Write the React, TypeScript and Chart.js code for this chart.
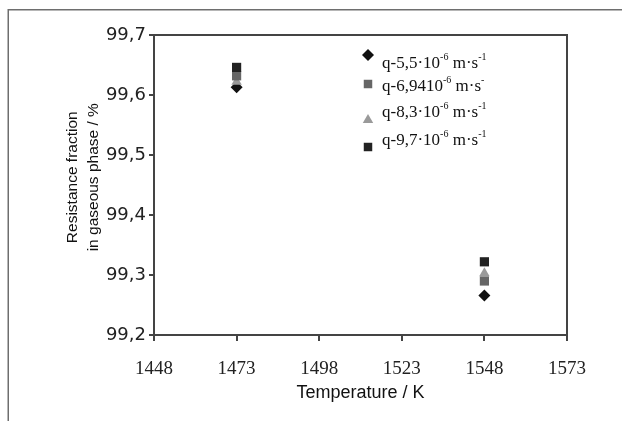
import React, { useEffect, useRef } from "react";
import { Chart, registerables } from "chart.js";

Chart.register(...registerables);

const temperatures = [1473, 1548];
const seriesQ97 = [99.646, 99.322];
const seriesQ694 = [99.632, 99.29];
const seriesQ83 = [99.622, 99.303];
const seriesQ55 = [99.613, 99.266];
const xTicks = [1448, 1473, 1498, 1523, 1548, 1573];
const yTicks = [99.2, 99.3, 99.4, 99.5, 99.6, 99.7];

type Part = { t: string; sup?: boolean };
const legendItems: { parts: Part[]; style: string; color: string; radius: number }[] = [
  { parts: [{ t: "q-5,5·10" }, { t: "-6", sup: true }, { t: " m·s" }, { t: "-1", sup: true }], style: "rectRot", color: "#111111", radius: 6 },
  { parts: [{ t: "q-6,9410" }, { t: "-6", sup: true }, { t: " m·s" }, { t: "-", sup: true }], style: "rect", color: "#666666", radius: 6 },
  { parts: [{ t: "q-8,3·10" }, { t: "-6", sup: true }, { t: " m·s" }, { t: "-1", sup: true }], style: "triangle", color: "#9a9a9a", radius: 6 },
  { parts: [{ t: "q-9,7·10" }, { t: "-6", sup: true }, { t: " m·s" }, { t: "-1", sup: true }], style: "rect", color: "#222222", radius: 6 },
];
const legendMarkerY = [55, 84, 120, 147];
const legendBaselineY = [68, 91, 117, 145];

function drawMarker(ctx: CanvasRenderingContext2D, style: string, r: number, x: number, y: number) {
  ctx.beginPath();
  if (style === "rect") {
    const s = r * Math.SQRT1_2;
    ctx.rect(x - s, y - s, 2 * s, 2 * s);
  } else if (style === "rectRot") {
    ctx.moveTo(x, y - r);
    ctx.lineTo(x + r, y);
    ctx.lineTo(x, y + r);
    ctx.lineTo(x - r, y);
    ctx.closePath();
  } else {
    ctx.moveTo(x, y - r);
    ctx.lineTo(x + r * 0.87, y + r * 0.5);
    ctx.lineTo(x - r * 0.87, y + r * 0.5);
    ctx.closePath();
  }
  ctx.fill();
}

const framePlugin = {
  id: "framePlugin",
  beforeDraw(chart: any) {
    const ctx = chart.ctx;
    ctx.save();
    ctx.fillStyle = "#ffffff";
    ctx.fillRect(0, 0, chart.width, chart.height);
    ctx.strokeStyle = "#6e6e6e";
    ctx.lineWidth = 1.5;
    ctx.beginPath();
    ctx.moveTo(8.25, chart.height);
    ctx.lineTo(8.25, 9.75);
    ctx.lineTo(chart.width, 9.75);
    ctx.stroke();
    ctx.restore();
  },
  afterDraw(chart: any) {
    const ctx = chart.ctx;
    const a = chart.chartArea;
    ctx.save();
    ctx.strokeStyle = "#444444";
    ctx.lineWidth = 2;
    ctx.beginPath();
    ctx.moveTo(a.left, a.top);
    ctx.lineTo(a.right, a.top);
    ctx.lineTo(a.right, a.bottom);
    ctx.stroke();

    const markerX = 368;
    const textX = 382;
    legendItems.forEach((it, i) => {
      ctx.fillStyle = it.color;
      drawMarker(ctx, it.style, it.radius, markerX, legendMarkerY[i]);
      let x = textX;
      const y = legendBaselineY[i];
      ctx.fillStyle = "#111111";
      ctx.textBaseline = "alphabetic";
      ctx.textAlign = "left";
      it.parts.forEach((p) => {
        if (p.sup) {
          ctx.font = "10px 'Liberation Serif', serif";
          ctx.fillText(p.t, x, y - 8);
        } else {
          ctx.font = "17px 'Liberation Serif', serif";
          ctx.fillText(p.t, x, y);
        }
        x += ctx.measureText(p.t).width;
      });
    });
    ctx.restore();
  },
};

export default function App() {
  const ref = useRef<HTMLCanvasElement | null>(null);
  useEffect(() => {
    if (!ref.current) return;
    const mk = (vals: number[]) => temperatures.map((t, i) => ({ x: t, y: vals[i] }));
    const chart = new Chart(ref.current, {
      type: "scatter",
      data: {
        datasets: [
          { label: "q-9,7", data: mk(seriesQ97), pointStyle: "rect", pointRadius: 6.5, backgroundColor: "#222222", borderColor: "#222222", borderWidth: 0 },
          { label: "q-6,94", data: mk(seriesQ694), pointStyle: "rect", pointRadius: 6.5, backgroundColor: "#666666", borderColor: "#666666", borderWidth: 0 },
          { label: "q-8,3", data: mk(seriesQ83), pointStyle: "triangle", pointRadius: 6, backgroundColor: "#9a9a9a", borderColor: "#9a9a9a", borderWidth: 0 },
          { label: "q-5,5", data: mk(seriesQ55), pointStyle: "rectRot", pointRadius: 6, backgroundColor: "#111111", borderColor: "#111111", borderWidth: 0 },
        ],
      },
      options: {
        animation: false,
        responsive: false,
        devicePixelRatio: 1,
        layout: { padding: { top: 35, right: 55, left: 0, bottom: 0 } },
        plugins: { legend: { display: false }, tooltip: { enabled: false } },
        scales: {
          x: {
            type: "linear",
            min: 1448,
            max: 1573,
            afterFit: (s: any) => { s.height = 86; },
            afterBuildTicks: (s: any) => { s.ticks = xTicks.map((v) => ({ value: v })); },
            ticks: {
              color: "#222222",
              padding: 17,
              font: { family: "'Liberation Serif', serif", size: 19 },
              callback: (v: any) => String(v),
            },
            grid: { drawOnChartArea: false, drawTicks: true, tickLength: 6, color: "#444444", lineWidth: 2 },
            border: { display: true, color: "#444444", width: 2 },
            title: {
              display: true,
              text: "Temperature / K",
              color: "#111111",
              font: { family: "'Liberation Sans', Arial, sans-serif", size: 18 },
              padding: { top: 0, bottom: 17 },
            },
          },
          y: {
            type: "linear",
            min: 99.2,
            max: 99.7,
            afterFit: (s: any) => { s.width = 154; },
            afterBuildTicks: (s: any) => { s.ticks = yTicks.map((v) => ({ value: v })); },
            ticks: {
              color: "#222222",
              padding: 3,
              font: { family: "'DejaVu Sans', sans-serif", size: 18 },
              callback: (v: any) => Number(v).toFixed(1).replace(".", ","),
            },
            grid: { drawOnChartArea: false, drawTicks: true, tickLength: 5, color: "#444444", lineWidth: 2 },
            border: { display: true, color: "#444444", width: 2 },
            title: {
              display: true,
              text: ["\u2002\u2002Resistance fraction", "\u2002\u2002in gaseous phase / %"],
              color: "#111111",
              font: { family: "'Liberation Sans', Arial, sans-serif", size: 15.5, lineHeight: 1.3 },
              padding: { top: 63, bottom: 0 },
            },
          },
        },
      },
      plugins: [framePlugin],
    });
    return () => chart.destroy();
  }, []);
  return (
    <div style={{ position: "fixed", left: 0, top: 0, width: 622, height: 421 }}>
      <canvas ref={ref} width={622} height={421} style={{ width: 622, height: 421, display: "block" }} />
    </div>
  );
}
